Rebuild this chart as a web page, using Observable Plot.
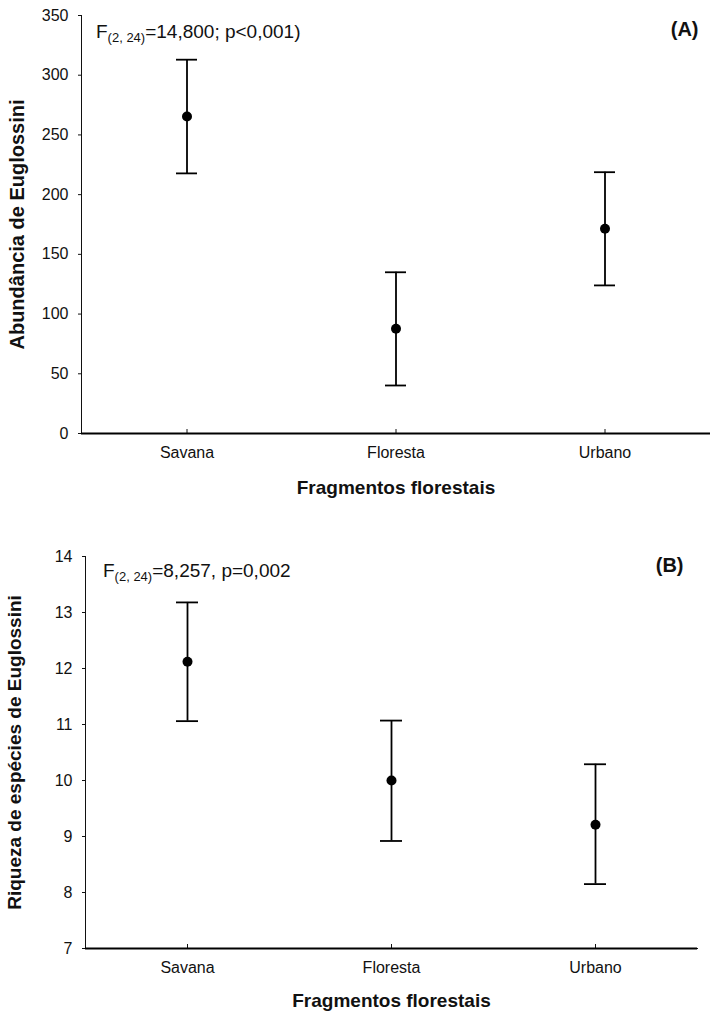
<!DOCTYPE html>
<html><head><meta charset="utf-8">
<script src="https://cdn.jsdelivr.net/npm/d3@7"></script>
<script src="https://cdn.jsdelivr.net/npm/@observablehq/plot@0.6"></script>
<style>
body{margin:0;background:#fff;font-family:"Liberation Sans",Arial,sans-serif;}
#wrap{position:relative;width:710px;height:1012px;overflow:hidden;}
.panel{position:absolute;left:0;}
.ann{position:absolute;font-size:19px;color:#111;white-space:nowrap;line-height:1;}
.ann sub{font-size:13px;vertical-align:-4px;}
svg g[aria-label$="axis line"]{stroke-width:2px;}
</style></head><body><div id="wrap"></div>
<script>
const categories = ["Savana", "Floresta", "Urbano"];
const abundMean = [265.5, 87.7, 171.4];
const abundLow  = [217.8, 40.2, 124.0];
const abundHigh = [313.0, 135.0, 218.8];
const richMean = [12.12, 10.0, 9.21];
const richLow  = [11.06, 8.92, 8.15];
const richHigh = [13.18, 11.07, 10.29];
const yTicksA = [0, 50, 100, 150, 200, 250, 300, 350];
const yTicksB = [7, 8, 9, 10, 11, 12, 13, 14];
const xTitle = "Fragmentos florestais";
const yTitleA = "Abundância de Euglossini";
const yTitleB = "Riqueza de espécies de Euglossini";

const dataA = categories.map((c, i) => ({cat: c, mean: abundMean[i], lo: abundLow[i], hi: abundHigh[i]}));
const dataB = categories.map((c, i) => ({cat: c, mean: richMean[i], lo: richLow[i], hi: richHigh[i]}));

const font = "'Liberation Sans', Arial, sans-serif";

function panel({data, height, mt, mb, ml, mr, ydom, yticks, ytitle, ytsize, ytdx, xtdy, tag, tagdx, tagdy, capInset}) {
  return Plot.plot({
    width: 710, height, marginTop: mt, marginBottom: mb, marginLeft: ml, marginRight: mr,
    style: {fontFamily: font, fontSize: "16px", color: "#111", background: "#fff", overflow: "visible"},
    x: {domain: categories, padding: 0, tickSize: -4, tickPadding: 17, label: null, line: true},
    y: {domain: ydom, ticks: yticks, tickFormat: d3.format("d"), tickSize: 3, tickPadding: 10, label: null, line: true},
    marks: [
      Plot.ruleX(data, {x: "cat", y1: "lo", y2: "hi", stroke: "#000", strokeWidth: 1.8}),
      Plot.tickY(data, {x: "cat", y: "lo", stroke: "#000", strokeWidth: 1.8, insetLeft: capInset, insetRight: capInset}),
      Plot.tickY(data, {x: "cat", y: "hi", stroke: "#000", strokeWidth: 1.8, insetLeft: capInset, insetRight: capInset}),
      Plot.dot(data, {x: "cat", y: "mean", r: 5, fill: "#000", stroke: null}),
      Plot.ruleY([ydom[0]], {stroke: "#000", strokeWidth: 2}),
      Plot.text([xTitle], {frameAnchor: "bottom", lineAnchor: "middle", textAnchor: "middle", dy: xtdy, text: d => d, fontSize: 19, fontWeight: "bold", fill: "#111"}),
      Plot.text([ytitle], {frameAnchor: "left", textAnchor: "middle", lineAnchor: "middle", dx: ytdx, rotate: -90, text: d => d, fontSize: ytsize, fontWeight: "bold", fill: "#111"}),
      Plot.text([tag], {frameAnchor: "top-right", textAnchor: "end", lineAnchor: "top", dx: tagdx, dy: tagdy, text: d => d, fontSize: 20, fontWeight: "bold", fill: "#111"})
    ]
  });
}

const wrap = document.getElementById("wrap");
const pA = panel({data: dataA, height: 500, mt: 15, mb: 67, ml: 81, mr: 0, ydom: [0, 350], yticks: yTicksA,
  ytitle: yTitleA, ytsize: 20, ytdx: -64, xtdy: 54, tag: "(A)", tagdx: -12, tagdy: 6, capInset: 94});
pA.classList.add("panel"); pA.style.top = "0px";
wrap.appendChild(pA);

const pB = panel({data: dataB, height: 512, mt: 56, mb: 64, ml: 85, mr: 13, ydom: [7, 14], yticks: yTicksB,
  ytitle: yTitleB, ytsize: 19, ytdx: -71, xtdy: 52, tag: "(B)", tagdx: -14, tagdy: 1, capInset: 91});
pB.classList.add("panel"); pB.style.top = "500px";
wrap.appendChild(pB);

const annA = document.createElement("div");
annA.className = "ann"; annA.style.left = "96px"; annA.style.top = "22px";
annA.innerHTML = "F<sub>(2, 24)</sub>=14,800; p&lt;0,001)";
wrap.appendChild(annA);

const annB = document.createElement("div");
annB.className = "ann"; annB.style.left = "103px"; annB.style.top = "561px";
annB.innerHTML = "F<sub>(2, 24)</sub>=8,257, p=0,002";
wrap.appendChild(annB);
</script>
</body></html>
